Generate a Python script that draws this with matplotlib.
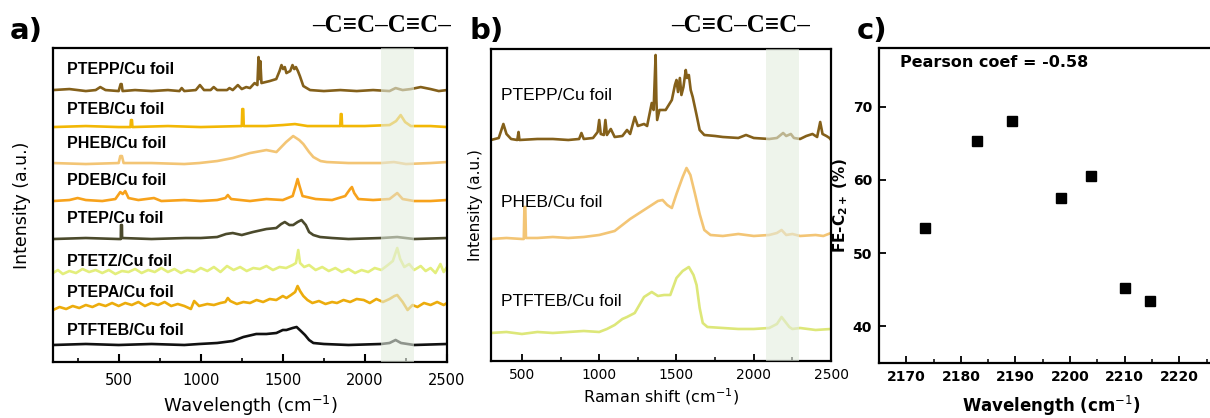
import matplotlib
matplotlib.use("Agg")
import matplotlib.pyplot as plt
from matplotlib.ticker import MultipleLocator

# ---- panel a: stacked spectra (x in cm-1, height above baseline) ----
names_a = ["PTEPP/Cu foil", "PTEB/Cu foil", "PHEB/Cu foil", "PDEB/Cu foil",
           "PTEP/Cu foil", "PTETZ/Cu foil", "PTEPA/Cu foil", "PTFTEB/Cu foil"]
colors_a = ["#84601A", "#F2B705", "#F3C575", "#F7A21B",
            "#4B4A2C", "#E3EE7C", "#ECAC0C", "#111111"]
offsets_a = [271, 235, 198, 161, 123, 89, 54, 17]
label_y_a = [293, 253, 219, 182, 144, 101, 70, 31]

pteppa = [(100,1),(200,2),(300,0),(360,1),(388,4),(420,1),(500,0),(512,7),(518,7),(524,0),
          (600,1),(700,0),(800,1),(870,0),(884,3),(900,0),(970,1),(995,6),(1020,1),(1060,1),
          (1079,4),(1100,1),(1160,1),(1175,3),(1195,1),(1226,6),(1250,2),(1277,4),(1300,3),
          (1328,8),(1345,6),(1352,34),(1358,12),(1363,30),(1370,8),(1420,10),(1460,12),
          (1480,20),(1492,26),(1502,22),(1512,24),(1522,18),(1533,19),(1545,20),(1559,26),
          (1570,22),(1580,24),(1592,20),(1604,15),(1625,5),(1666,1),(1750,0),(1850,1),
          (1950,0),(2050,1),(2150,0),(2187,3),(2230,1),(2280,2),(2340,4),(2400,2),(2450,0),(2500,1)]
pteba = [(100,0),(300,1),(500,0),(572,0),(575,7),(581,7),(584,0),(800,1),(1000,0),(1250,1),
         (1253,18),(1259,18),(1262,1),(1400,1),(1500,2),(1574,3),(1650,1),(1850,1),(1853,13),
         (1858,13),(1861,1),(2000,1),(2150,2),(2190,6),(2218,12),(2245,5),(2280,1),(2400,1),(2500,0)]
pheba = [(100,1),(300,0),(500,1),(510,8),(520,8),(530,1),(700,1),(900,0),(991,1),(1100,3),
         (1195,6),(1300,11),(1400,14),(1461,12),(1520,22),(1563,28),(1600,24),(1625,20),
         (1660,12),(1686,7),(1730,3),(1768,2),(1900,1),(2100,1),(2177,2),(2250,0),(2400,1),(2500,2)]
pdeba = [(100,0),(200,1),(250,3),(300,1),(400,0),(480,2),(510,9),(525,7),(540,10),(560,3),
         (620,1),(715,3),(760,0),(900,1),(1000,0),(1100,1),(1150,3),(1165,6),(1185,2),(1300,0),
         (1400,2),(1500,1),(1560,5),(1580,16),(1590,22),(1600,16),(1620,5),(1700,2),(1800,1),
         (1880,5),(1910,12),(1921,14),(1935,8),(1960,2),(2050,1),(2150,2),(2197,8),(2230,2),
         (2300,0),(2400,0),(2500,1)]
ptepa_ = [(100,0),(300,1),(500,0),(513,0),(514,14),(520,14),(521,1),(700,0),(909,1),(1000,1),
          (1100,2),(1154,5),(1195,6),(1250,4),(1318,7),(1400,10),(1460,11),(1490,15),(1512,17),
          (1540,14),(1563,14),(1590,17),(1614,19),(1640,14),(1660,7),(1686,4),(1727,2),(1800,1),
          (1900,0),(2100,1),(2197,2),(2300,0),(2500,1)]
ptetza = [(100,0),(130,3),(160,-1),(200,2),(240,0),(280,4),(320,1),(360,3),(400,0),(440,3),
          (480,-1),(520,2),(560,1),(600,4),(640,0),(680,3),(720,1),(760,5),(800,1),(840,4),
          (880,0),(920,3),(960,1),(1000,5),(1040,2),(1080,6),(1120,1),(1160,7),(1200,3),(1240,6),
          (1280,2),(1320,5),(1360,4),(1400,7),(1440,3),(1480,6),(1520,5),(1560,8),(1580,10),
          (1594,23),(1605,10),(1630,6),(1660,8),(1700,3),(1740,6),(1780,2),(1820,5),(1860,1),
          (1900,4),(1940,0),(1980,3),(2020,1),(2060,5),(2100,3),(2140,8),(2170,12),(2197,25),
          (2215,14),(2240,6),(2270,9),(2300,3),(2340,7),(2370,2),(2400,5),(2430,0),(2460,9),
          (2480,1),(2500,6)]
ptepaa = [(100,-2),(140,1),(180,-1),(220,2),(260,0),(300,3),(340,1),(380,4),(420,2),(460,5),
          (500,2),(540,5),(580,3),(620,6),(660,2),(700,5),(740,3),(780,6),(820,2),(860,4),
          (900,2),(940,-1),(960,7),(990,2),(1040,4),(1080,3),(1120,5),(1150,6),(1165,10),
          (1180,7),(1220,4),(1260,6),(1300,5),(1340,8),(1380,6),(1420,9),(1460,8),(1500,12),
          (1522,10),(1550,13),(1575,16),(1590,22),(1605,17),(1625,12),(1650,8),(1680,5),
          (1720,7),(1760,4),(1800,6),(1830,5),(1870,8),(1910,6),(1950,9),(1993,8),(2030,5),
          (2070,9),(2110,6),(2150,9),(2180,12),(2197,13),(2230,6),(2260,-2),(2290,3),(2320,1),
          (2360,5),(2400,3),(2440,6),(2480,3),(2500,5)]
ptfteba = [(100,0),(300,1),(500,0),(700,1),(900,0),(991,1),(1100,2),(1195,4),(1260,8),
           (1338,11),(1400,11),(1461,12),(1500,15),(1522,15),(1560,17),(1584,18),(1610,14),
           (1635,10),(1660,5),(1686,2),(1750,1),(1900,0),(2100,1),(2150,2),(2187,5),(2220,2),
           (2300,0),(2500,1)]
spectra_a = [pteppa, pteba, pheba, pdeba, ptepa_, ptetza, ptepaa, ptfteba]

# ---- panel b ----
names_b = ["PTEPP/Cu foil", "PHEB/Cu foil", "PTFTEB/Cu foil"]
colors_b = ["#84601A", "#F3C575", "#DDE779"]
offsets_b = [221, 122, 28]
label_y_b = [265, 158, 59]

pteppb = [(300,0),(350,2),(380,16),(400,6),(430,1),(470,0),(478,8),(484,0),(600,1),(700,1),
          (800,0),(870,1),(885,7),(900,1),(960,2),(990,8),(1000,20),(1010,6),(1030,5),(1040,20),
          (1050,5),(1075,11),(1100,3),(1150,4),(1180,10),(1200,6),(1230,23),(1250,14),(1290,16),
          (1310,14),(1340,37),(1352,30),(1365,85),(1370,40),(1375,20),(1390,30),(1430,30),
          (1470,40),(1490,55),(1500,60),(1510,48),(1522,62),(1532,45),(1545,53),(1560,70),
          (1568,62),(1580,65),(1592,50),(1605,43),(1630,25),(1650,10),(1680,5),(1750,4),
          (1800,3),(1900,2),(1950,5),(2000,2),(2100,1),(2150,2),(2190,7),(2210,4),(2240,6),
          (2260,2),(2300,1),(2340,4),(2380,6),(2410,3),(2430,18),(2445,6),(2470,4),(2490,2),(2500,0)]
phebb = [(300,0),(400,1),(500,0),(512,0),(516,32),(522,32),(526,1),(600,1),(700,2),(800,1),
         (900,2),(1000,4),(1100,8),(1150,14),(1200,20),(1300,30),(1380,38),(1410,39),(1440,34),
         (1470,31),(1500,45),(1540,62),(1565,71),(1590,64),(1620,45),(1650,25),(1680,9),(1720,4),
         (1800,3),(1900,5),(2000,3),(2100,4),(2150,6),(2180,9),(2210,4),(2250,5),(2300,3),
         (2400,4),(2450,3),(2500,6)]
ptftebb = [(300,0),(400,1),(500,-1),(600,1),(700,0),(800,1),(900,2),(1000,1),(1050,4),(1100,8),
           (1150,14),(1180,16),(1230,20),(1290,36),(1340,41),(1380,37),(1420,38),(1460,38),
           (1500,55),(1540,62),(1580,66),(1610,58),(1630,48),(1650,25),(1670,10),(1700,6),
           (1800,5),(1900,4),(2000,4),(2100,5),(2150,9),(2180,16),(2200,12),(2230,6),(2250,4),
           (2300,5),(2400,3),(2500,4)]
spectra_b = [pteppb, phebb, ptftebb]

# ---- panel c ----
wave_c = [2173.5, 2183.0, 2189.3, 2198.4, 2203.8, 2210.0, 2214.6]
fe_c = [53.5, 65.3, 68.1, 57.5, 60.5, 45.3, 43.4]

fig = plt.figure(figsize=(12.1, 4.18), dpi=100)

def box(ax):
    for s in ax.spines.values():
        s.set_linewidth(1.6)

# panel a
ax1 = fig.add_axes([0.0438, 0.134, 0.3256, 0.751])
for pts, off, c in zip(spectra_a, offsets_a, colors_a):
    ax1.plot([p[0] for p in pts], [p[1] + off for p in pts], color=c, lw=1.9)
for n, y in zip(names_a, label_y_a):
    ax1.text(185, y, n, fontsize=11.5, fontweight="bold", family="Liberation Sans", va="center")
ax1.axvspan(2100, 2300, color="#E3EDDF", alpha=0.6, lw=0, zorder=3)
ax1.set_xlim(100, 2500)
ax1.set_ylim(0, 314)
ax1.set_yticks([])
ax1.xaxis.set_major_locator(MultipleLocator(500))
ax1.xaxis.set_minor_locator(MultipleLocator(250))
ax1.tick_params(axis="x", which="major", direction="in", length=6, width=1.5, labelsize=10.5, pad=8)
ax1.tick_params(axis="x", which="minor", direction="in", length=3, width=1.2)
ax1.set_xlabel("Wavelength (cm$^{-1}$)", fontsize=13, labelpad=4)
ax1.set_ylabel("Intensity (a.u.)", fontsize=12.5, labelpad=16)
box(ax1)

# panel b
ax2 = fig.add_axes([0.4058, 0.1364, 0.281, 0.7464])
for pts, off, c in zip(spectra_b, offsets_b, colors_b):
    ax2.plot([p[0] for p in pts], [p[1] + off for p in pts], color=c, lw=1.9)
for n, y in zip(names_b, label_y_b):
    ax2.text(362, y, n, fontsize=12.5, family="Liberation Sans", va="center")
ax2.axvspan(2080, 2290, color="#E3EDDF", alpha=0.6, lw=0, zorder=3)
ax2.set_xlim(300, 2500)
ax2.set_ylim(0, 312)
ax2.set_yticks([])
ax2.xaxis.set_major_locator(MultipleLocator(500))
ax2.xaxis.set_minor_locator(MultipleLocator(250))
ax2.tick_params(axis="x", which="major", direction="in", length=5, width=1.3, labelsize=10, pad=5)
ax2.tick_params(axis="x", which="minor", direction="in", length=3, width=1.1)
ax2.set_xlabel("Raman shift (cm$^{-1}$)", fontsize=11.5, labelpad=3)
ax2.set_ylabel("Intensity (a.u.)", fontsize=11, labelpad=6)
box(ax2)

# panel c
ax3 = fig.add_axes([0.7264, 0.1316, 0.2843, 0.7534])
ax3.plot(wave_c, fe_c, "s", color="black", ms=7)
ax3.set_xlim(2165, 2228)
ax3.set_ylim(35, 78)
ax3.xaxis.set_major_locator(MultipleLocator(10))
ax3.xaxis.set_minor_locator(MultipleLocator(5))
ax3.yaxis.set_major_locator(MultipleLocator(10))
ax3.tick_params(axis="both", which="major", direction="in", length=5, width=1.3, labelsize=10, pad=5)
ax3.tick_params(axis="x", which="minor", direction="in", length=3, width=1.1)
for lab in ax3.get_xticklabels() + ax3.get_yticklabels():
    lab.set_fontweight("bold")
ax3.text(0.06, 0.955, "Pearson coef = -0.58", transform=ax3.transAxes, fontsize=11.5,
         fontweight="bold", va="center")
ax3.set_xlabel("Wavelength (cm$^{-1}$)", fontsize=12, fontweight="bold", labelpad=7)
ax3.set_ylabel(r"FE-C$_{\mathbf{2+}}$ (%)", fontsize=11, fontweight="bold", labelpad=2)
box(ax3)

# panel letters and bond formula
for x, t in [(0.008, "a)"), (0.388, "b)"), (0.708, "c)")]:
    fig.text(x, 0.925, t, fontsize=21, fontweight="bold", va="center")
for x in [0.315, 0.612]:
    fig.text(x, 0.94, "\u2013C\u2261C\u2013C\u2261C\u2013", fontsize=18, fontweight="bold",
             family="Liberation Serif", ha="center", va="center")

fig.savefig("out.png", dpi=100)
